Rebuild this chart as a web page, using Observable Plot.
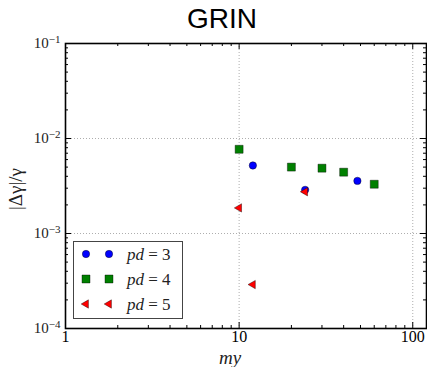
<!DOCTYPE html>
<html><head><meta charset="utf-8">
<script src="https://cdn.jsdelivr.net/npm/d3@7"></script>
<script src="https://cdn.jsdelivr.net/npm/@observablehq/plot@0.6"></script>
<style>body{margin:0;background:#fff;} #chart{position:relative;width:427px;height:367px;}
#chart svg text, #chart svg tspan { font-family: "Liberation Serif", "DejaVu Serif", "Times New Roman", serif; }
#chart svg text.sans { font-family: "Liberation Sans", Arial, sans-serif; }
</style>
</head><body><div id="chart"></div>
<script>
const title = "GRIN";
const xLabel = "my";
const yLabel = "|Δγ|/γ";
const seriesNames = ["3", "4", "5"];
const seriesColors = ["#0000ff", "#008000", "#ff0000"];
const pd3_my = [12, 24, 48];
const pd3_err = [5.2e-3, 2.88e-3, 3.58e-3];
const pd4_my = [10, 20, 30, 40, 60];
const pd4_err = [7.7e-3, 5.0e-3, 4.87e-3, 4.42e-3, 3.3e-3];
const pd5_my = [10, 24, 12];
const pd5_err = [1.86e-3, 2.75e-3, 2.9e-4];
const xTicks = [1, 10, 100];
const yTicks = [1e-4, 1e-3, 1e-2, 1e-1];
const xDomain = [1, 120];
const yDomain = [1e-4, 1e-1];

const W = 427, H = 367, mL = 65, mR = 1, mT = 43, mB = 39;
const plotH = H - mT - mB, plotW = W - mL - mR;

const pd3 = pd3_my.map((x, i) => ({x, y: pd3_err[i]}));
const pd4 = pd4_my.map((x, i) => ({x, y: pd4_err[i]}));
const pd5 = pd5_my.map((x, i) => ({x, y: pd5_err[i]}));

const xMinor = [];
for (const d of [1, 10]) for (let k = 2; k <= 9; k++) if (d * k <= xDomain[1]) xMinor.push(d * k);
const yMinor = [];
for (const d of [1e-4, 1e-3, 1e-2]) for (let k = 2; k <= 9; k++) yMinor.push(d * k);

const MAJ = 6, MIN = 3;
const tickStyle = {stroke: "black", strokeWidth: 1};
const R = [3.7, 4.5, 3.1];

const chart = Plot.plot({
  width: W, height: H,
  marginLeft: mL, marginRight: mR, marginTop: mT, marginBottom: mB,
  style: {background: "white"},
  x: {type: "log", domain: xDomain},
  y: {type: "log", domain: yDomain},
  marks: [
    Plot.gridX([10, 100], {stroke: "#999", strokeOpacity: 1, strokeDasharray: "1,2", strokeWidth: 0.8}),
    Plot.gridY([1e-3, 1e-2], {stroke: "#999", strokeOpacity: 1, strokeDasharray: "1,2", strokeWidth: 0.8}),
    Plot.tickX(xTicks, {x: d => d, insetBottom: plotH - MAJ, ...tickStyle}),
    Plot.tickX(xTicks, {x: d => d, insetTop: plotH - MAJ, ...tickStyle}),
    Plot.tickX(xMinor, {x: d => d, insetBottom: plotH - MIN, ...tickStyle}),
    Plot.tickX(xMinor, {x: d => d, insetTop: plotH - MIN, ...tickStyle}),
    Plot.tickY(yTicks, {y: d => d, insetRight: plotW - MAJ, ...tickStyle}),
    Plot.tickY(yTicks, {y: d => d, insetLeft: plotW - MAJ, ...tickStyle}),
    Plot.tickY(yMinor, {y: d => d, insetRight: plotW - MIN, ...tickStyle}),
    Plot.tickY(yMinor, {y: d => d, insetLeft: plotW - MIN, ...tickStyle}),
    Plot.axisX(xTicks, {tickSize: 0, tickPadding: 2, fontSize: 16, label: null, tickFormat: d => String(d), fill: "black"}),
    Plot.axisY(yTicks, {tickSize: 0, tickPadding: 5, fontSize: 15, label: null, tickFormat: d => "10|" + Math.round(Math.log10(d)), fill: "#222"}),
    Plot.dot(pd3, {x: "x", y: "y", r: R[0], symbol: "circle", fill: seriesColors[0], stroke: "black", strokeWidth: 0.4}),
    Plot.dot(pd4, {x: "x", y: "y", r: R[1], symbol: "square", fill: seriesColors[1], stroke: "black", strokeWidth: 0.4}),
    Plot.dot(pd5, {x: "x", y: "y", r: R[2], symbol: "triangle", rotate: -90, fill: seriesColors[2], stroke: "black", strokeWidth: 0.4}),
    Plot.frame({stroke: "black", strokeWidth: 1.6}),
    Plot.text([title], {frameAnchor: "top", lineAnchor: "top", dx: -24, dy: -35, fontSize: 28, fill: "black"}),
    Plot.text([xLabel], {frameAnchor: "bottom", lineAnchor: "bottom", textAnchor: "middle", dx: -16, dy: 35, fontSize: 19, fontStyle: "italic", fill: "#222"}),
    Plot.text([yLabel], {frameAnchor: "left", textAnchor: "middle", lineAnchor: "middle", dx: -50, dy: 3, rotate: -90, fontSize: 19, fill: "#222"})
  ]
});

const svg = d3.select(chart);
svg.selectAll('g[aria-label="text"] text').filter(function () { return d3.select(this).text() === title; }).classed("sans", true);
svg.selectAll('g[aria-label="y-axis tick label"] text').each(function () {
  const t = d3.select(this);
  const [base, ex] = t.text().split("|");
  t.text(null);
  t.append("tspan").text(base);
  t.append("tspan").attr("dy", "-0.5em").attr("font-size", 11).text(ex.replace("-", "−"));
});

// legend
const lg = svg.append("g").attr("text-anchor", "start");
lg.append("rect").attr("x", 73.5).attr("y", 241.5).attr("width", 109).attr("height", 77)
  .attr("fill", "white").attr("stroke", "#444").attr("stroke-width", 1);
const rows = [254, 279, 304];
const sym = [d3.symbolCircle, d3.symbolSquare, d3.symbolTriangle];
rows.forEach((ry, i) => {
  for (const mx of [86, 109]) {
    lg.append("path").attr("d", d3.symbol(sym[i], Math.PI * R[i] * R[i])())
      .attr("transform", `translate(${mx},${ry})` + (i === 2 ? " rotate(-90)" : ""))
      .attr("fill", seriesColors[i]).attr("stroke", "black").attr("stroke-width", 0.4);
  }
  const t = lg.append("text").attr("x", 127).attr("y", ry).attr("dy", "0.35em").attr("font-size", 17).attr("fill", "#222");
  t.append("tspan").attr("font-style", "italic").text("pd");
  t.append("tspan").text(" = " + seriesNames[i]);
});

document.getElementById("chart").appendChild(chart);
</script>
</body></html>
